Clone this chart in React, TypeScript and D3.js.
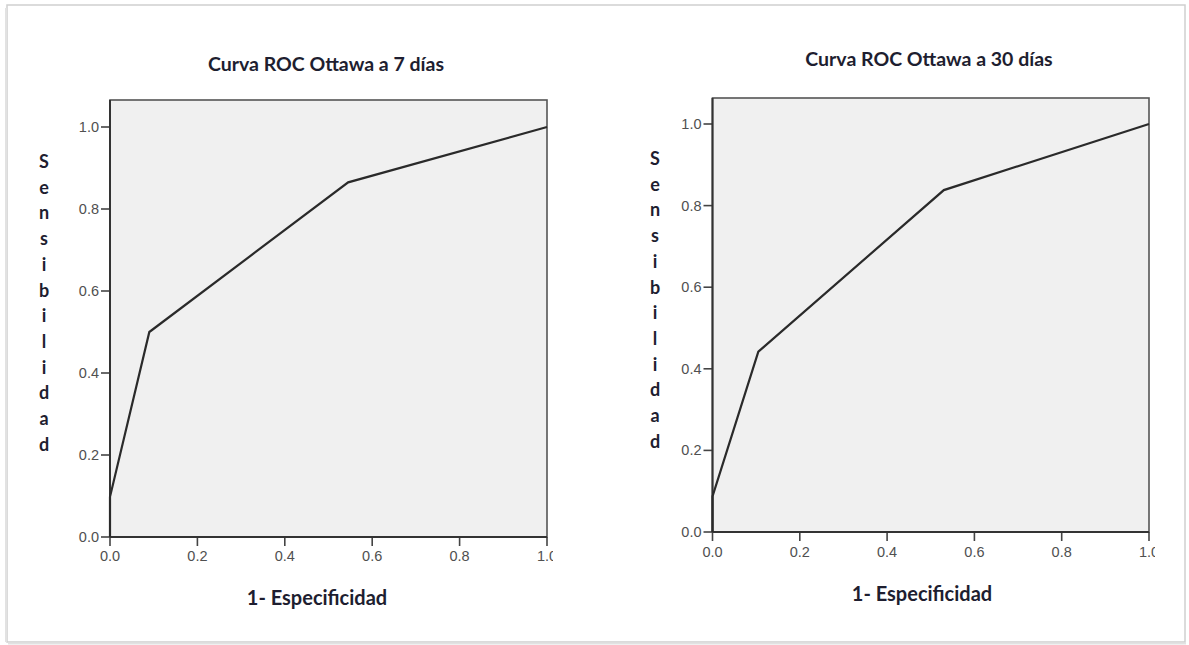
import React from "react";
import * as d3 from "d3";

// ---- Data ----
const fpr7 = [0, 0, 0.09, 0.545, 1];
const sens7 = [0, 0.098, 0.5, 0.865, 1];
const fpr30 = [0, 0, 0.105, 0.53, 1];
const sens30 = [0, 0.087, 0.442, 0.838, 1];
const tickValues = [0, 0.2, 0.4, 0.6, 0.8, 1.0];
const titles = ["Curva ROC Ottawa a 7 días", "Curva ROC Ottawa a 30 días"];
const xLabel = "1- Especificidad";
const yLabel = "Sensibilidad";

const panels = [
  { x0: 110, x1: 547, yTop: 100, y0: 537, y1: 127, titleX: 326, titleY: 71, xlabX: 317, xlabY: 605, ylabX: 44, ylabY: 168, tickLabY: 561, fpr: fpr7, sens: sens7, title: titles[0] },
  { x0: 712.5, x1: 1149, yTop: 98, y0: 532, y1: 124, titleX: 929, titleY: 66, xlabX: 922, xlabY: 601, ylabX: 655, ylabY: 165, tickLabY: 557, fpr: fpr30, sens: sens30, title: titles[1] },
];

const textColor = "#1e1e30";
const boldFont = "Lato, 'Open Sans', sans-serif";
const tickFont = "Arial, 'Liberation Sans', sans-serif";

function Panel({ p, idx }: { p: any; idx: number }) {
  const x = d3.scaleLinear().domain([0, 1]).range([p.x0, p.x1]);
  const y = d3.scaleLinear().domain([0, 1]).range([p.y0, p.y1]);
  const pts: [number, number][] = p.fpr.map((f: number, i: number) => [f, p.sens[i]]);
  const line = d3.line<[number, number]>().x((d) => x(d[0])).y((d) => y(d[1]));
  const clipId = `clip-xt-${idx}`;
  const letters = yLabel.split("");
  return (
    <g>
      <defs>
        <clipPath id={clipId}>
          <rect x={0} y={0} width={p.x1 + 6} height={645} />
        </clipPath>
      </defs>
      <text x={p.titleX} y={p.titleY} textAnchor="middle" fontFamily={boldFont} fontWeight="bold" fontSize={19.5} fill={textColor}>
        {p.title}
      </text>
      <rect x={p.x0} y={p.yTop} width={p.x1 - p.x0} height={p.y0 - p.yTop} fill="#f0f0f0" stroke="#555" strokeWidth={1.6} />
      {tickValues.map((t) => (
        <g key={"y" + t}>
          <line x1={p.x0 - 9} x2={p.x0} y1={y(t)} y2={y(t)} stroke="#444" strokeWidth={1.6} />
          <text x={p.x0 - 11} y={y(t) + 5} textAnchor="end" fontFamily={tickFont} fontSize={14.5} fill="#505050">
            {d3.format(".1f")(t)}
          </text>
        </g>
      ))}
      <g clipPath={`url(#${clipId})`}>
        {tickValues.map((t) => (
          <g key={"x" + t}>
            <line x1={x(t)} x2={x(t)} y1={p.y0} y2={p.y0 + 9} stroke="#444" strokeWidth={1.6} />
            <text x={x(t)} y={p.tickLabY} textAnchor="middle" fontFamily={tickFont} fontSize={14.5} fill="#505050">
              {d3.format(".1f")(t)}
            </text>
          </g>
        ))}
      </g>
      <line x1={p.x0} x2={p.x1} y1={p.y0} y2={p.y0} stroke="#333" strokeWidth={2} />
      <line x1={p.x0} x2={p.x0} y1={p.yTop} y2={p.y0} stroke="#333" strokeWidth={2} />
      <path d={line(pts) || ""} fill="none" stroke="#2a2a2a" strokeWidth={2.2} strokeLinejoin="miter" />
      <text x={p.xlabX} y={p.xlabY} textAnchor="middle" fontFamily={boldFont} fontWeight="bold" fontSize={20} fill={textColor}>
        {xLabel}
      </text>
      {letters.map((c, i) => (
        <text key={"l" + i} x={p.ylabX} y={p.ylabY + i * 25.7} textAnchor="middle" fontFamily={boldFont} fontWeight="bold" fontSize={18} fill={textColor}>
          {c}
        </text>
      ))}
    </g>
  );
}

export default function App() {
  return (
    <svg width={1189} height={645} style={{ position: "absolute", left: 0, top: 0, background: "#fff" }}>
      <rect x={0} y={0} width={1189} height={645} fill="#fff" />
      <rect x={7} y={5} width={1178} height={637} fill="#fff" stroke="#cfcfcf" strokeWidth={1.5} />
      <line x1={6} x2={6} y1={8} y2={642} stroke="#e2e2e2" strokeWidth={2} />
      <line x1={8} x2={1186} y1={643.5} y2={643.5} stroke="#e2e2e2" strokeWidth={2} />
      {panels.map((p, i) => (
        <Panel key={i} p={p} idx={i} />
      ))}
    </svg>
  );
}
